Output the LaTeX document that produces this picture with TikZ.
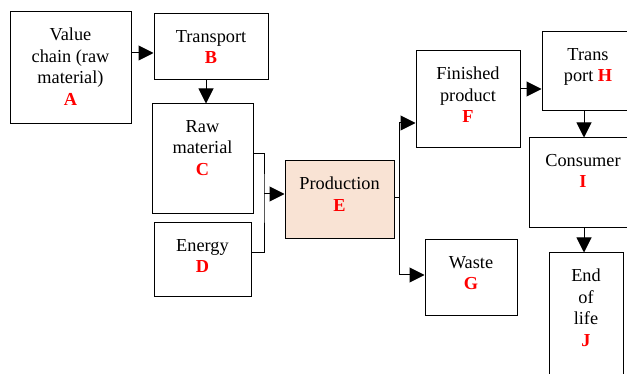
\documentclass[tikz,border=0pt]{standalone}
\usepackage{fontspec}
\setmainfont{Liberation Serif}
\usetikzlibrary{arrows.meta}
\definecolor{prodfill}{RGB}{249,227,212}
\definecolor{lettercol}{RGB}{255,0,0}
\newcommand{\tag}[1]{{\bfseries\color{lettercol}#1}}
\begin{document}
\begin{tikzpicture}[x=1pt,y=-1pt,
  stage/.style={draw=black,line width=1pt,inner sep=0pt},
  caption/.style={anchor=north,align=center,inner sep=0pt,
    font=\fontsize{18.3}{21.5}\selectfont},
  arr/.style={line width=1pt,-{Triangle[length=15pt,width=15pt]}},
  link/.style={line width=1pt}]
\useasboundingbox (0,0) rectangle (627,374);
\clip (0,0) rectangle (627,374);

% boxes
\node[stage] (A) at (70.5,68) [minimum width=121pt,minimum height=112pt] {};
\node[stage] (B) at (211,47) [minimum width=114pt,minimum height=66pt] {};
\node[stage] (C) at (202.5,159) [minimum width=101pt,minimum height=110pt] {};
\node[stage] (D) at (202.5,260) [minimum width=97pt,minimum height=74pt] {};
\node[stage,fill=prodfill] (E) at (339.5,200) [minimum width=109pt,minimum height=78pt] {};
\node[stage] (F) at (468,99.5) [minimum width=104pt,minimum height=97pt] {};
\node[stage] (G) at (471,278) [minimum width=92pt,minimum height=76pt] {};
\node[stage] (H) at (588,71.5) [minimum width=92pt,minimum height=79pt] {};
\node[stage] (I) at (583,183) [minimum width=108pt,minimum height=90pt] {};
\node[stage] (J) at (586,321.5) [minimum width=74pt,minimum height=137pt] {};

% labels inside the boxes
\node[caption] (tA) at ([yshift=-16.5pt]A.north) {Value\\chain (raw\\material)\\\tag{A}};
\node[caption] (tB) at ([yshift=-16.5pt]B.north) {Transport\\\tag{B}};
\node[caption] (tC) at ([yshift=-16.5pt]C.north) {Raw\\material\\\tag{C}};
\node[caption] (tD) at ([yshift=-16.5pt]D.north) {Energy\\\tag{D}};
\node[caption] (tE) at ([yshift=-16.5pt]E.north) {Production\\\tag{E}};
\node[caption] (tF) at ([yshift=-16.5pt]F.north) {Finished\\product\\\tag{F}};
\node[caption] (tG) at ([yshift=-16.5pt]G.north) {Waste\\\tag{G}};
\node[caption] (tH) at ([yshift=-16.5pt]H.north) {Trans\\port \tag{H}};
\node[caption] (tI) at ([yshift=-16.5pt]I.north) {Consumer\\\tag{I}};
\node[caption] (tJ) at ([yshift=-16.5pt]J.north) {End\\of\\life\\\tag{J}};

% junction points of the elbow connectors
\coordinate (inJ) at (264,194);
\coordinate (outJ) at (399,198);

% connectors
\draw[arr] (A.east |- 0,53) -- (B.west |- 0,53);
\draw[arr] (B.south -| 206,0) -- (C.north -| 206,0);
\draw[link] (C.east |- 0,154) -| (inJ) |- (D.east |- 0,253);
\draw[arr] (inJ) -- (E.west |- inJ);
\draw[link] (E.east |- outJ) -- (outJ);
\draw[link] (outJ |- 0,123) -- (outJ |- 0,275);
\draw[arr] (outJ |- 0,123) -- (F.west |- 0,123);
\draw[arr] (outJ |- 0,275) -- (G.west |- 0,275);
\draw[arr] (F.east |- 0,89) -- (H.west |- 0,89);
\draw[arr] (H.south -| 584,0) -- (I.north -| 584,0);
\draw[arr] (I.south -| 584,0) -- (J.north -| 584,0);
\end{tikzpicture}
\end{document}
